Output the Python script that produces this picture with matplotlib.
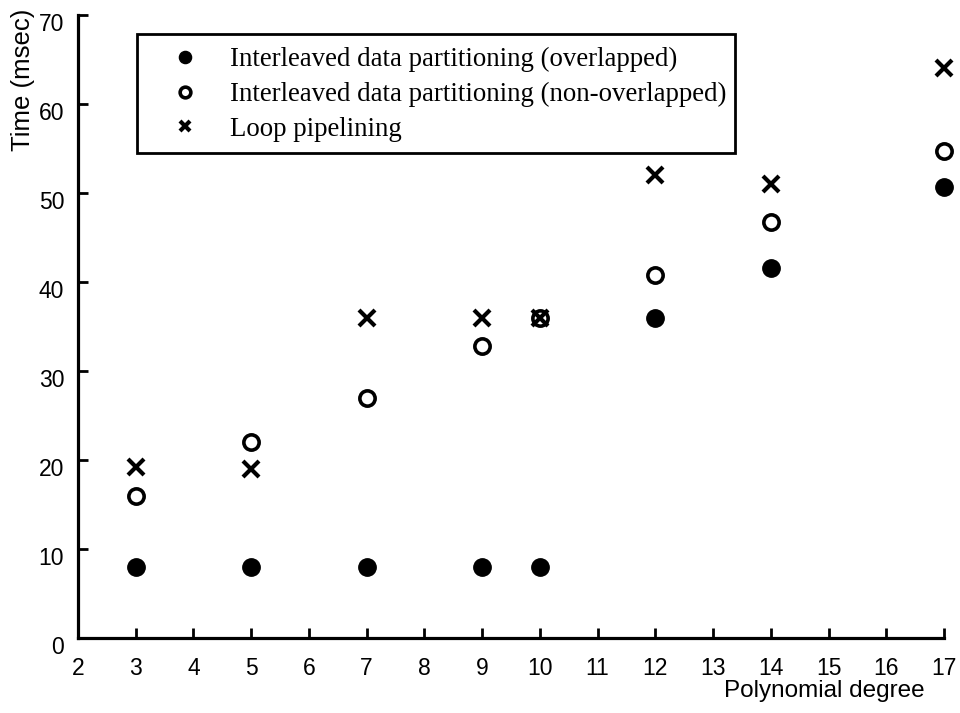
import matplotlib
matplotlib.use("Agg")
import matplotlib.pyplot as plt
from matplotlib.patches import Rectangle
from matplotlib.transforms import ScaledTranslation

degrees = [3, 5, 7, 9, 10, 12, 14, 17]
overlapped = [8, 8, 8, 8, 8, 36, 41.6, 50.7]
non_overlapped = [16, 22, 27, 32.8, 36, 40.8, 46.7, 54.7]
loop_pipelining = [19.2, 19, 36, 36, 36, 52, 51, 64]

labels = ["Interleaved data partitioning (overlapped)",
          "Interleaved data partitioning (non-overlapped)",
          "Loop pipelining"]
xticks = list(range(2, 18))
yticks = list(range(0, 71, 10))

sans = ["Liberation Sans", "DejaVu Sans"]
serif = ["Liberation Serif", "DejaVu Serif"]

fig = plt.figure(figsize=(9.6, 7.13), dpi=100)
ax = fig.add_axes([78/960, 1 - 638/713, 866/960, 623/713])

ax.plot(degrees, overlapped, linestyle="none", marker="o", markersize=12.5,
        markerfacecolor="black", markeredgecolor="black", label=labels[0],
        clip_on=False)
ax.plot(degrees, non_overlapped, linestyle="none", marker="o", markersize=11,
        markerfacecolor="white", markeredgecolor="black", markeredgewidth=2.6,
        label=labels[1], clip_on=False)
ax.plot(degrees, loop_pipelining, linestyle="none", marker="x", markersize=11,
        color="black", markeredgewidth=3, label=labels[2], clip_on=False)

ax.set_xlim(2, 17)
ax.set_ylim(0, 70)
ax.set_xticks(xticks)
ax.set_yticks(yticks)
ax.set_xticklabels([str(t) for t in xticks], family=sans, fontsize=16.5)
ax.set_yticklabels([str(t) for t in yticks], family=sans, fontsize=16.5)
ax.tick_params(direction="in", length=7, width=2, color="black")
ax.tick_params(axis="x", pad=14)
ax.tick_params(axis="y", pad=10)
shift = ScaledTranslation(0, -5/72, fig.dpi_scale_trans)
for lab in ax.get_yticklabels():
    lab.set_transform(lab.get_transform() + shift)

for s in ["top", "right"]:
    ax.spines[s].set_visible(False)
for s in ["left", "bottom"]:
    ax.spines[s].set_linewidth(2.3)

fig.text(23/960, 1 - 80/713, "Time (msec)", rotation=90, ha="center", va="center",
         family=sans, fontsize=18.5)
fig.text(925/960, 1 - 691/713, "Polynomial degree", ha="right", va="center",
         family=sans, fontsize=17.5)

# legend frame
x0, x1 = (137 - 78)/866, (735 - 78)/866
y0, y1 = (638 - 153)/623, (638 - 34)/623
ax.add_patch(Rectangle((x0, y0), x1 - x0, y1 - y0, transform=ax.transAxes,
                       facecolor="white", edgecolor="black", linewidth=2,
                       clip_on=False, zorder=5))

leg = ax.legend(loc="upper left", bbox_to_anchor=((172 - 78)/866, (638 - 47)/623),
                borderaxespad=0, prop={"family": serif, "size": 19.4},
                markerscale=0.7, frameon=False,
                handlelength=1.0, handletextpad=1.15, labelspacing=0.36,
                borderpad=0)
leg.set_zorder(6)

fig.savefig("out.png", dpi=100)
